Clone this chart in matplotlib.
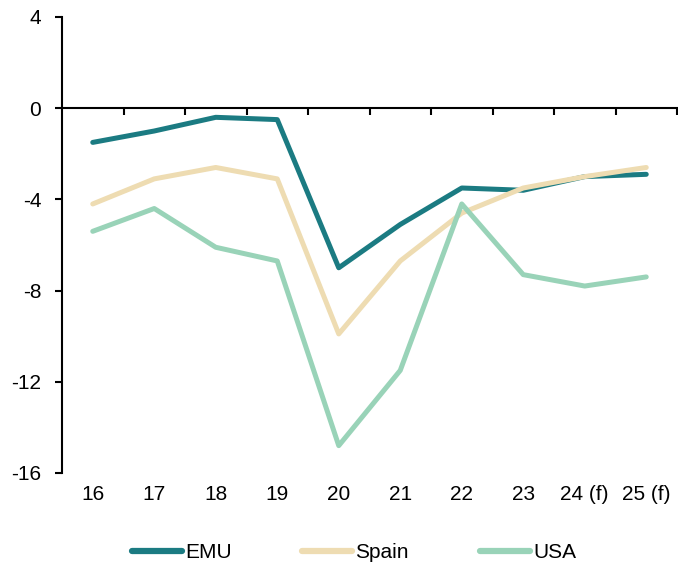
import matplotlib
matplotlib.use("Agg")
import matplotlib.pyplot as plt
import matplotlib.transforms as mtransforms
import numpy as np

plt.rcParams['font.family'] = ['Liberation Sans', 'DejaVu Sans']

years = ["16", "17", "18", "19", "20", "21", "22", "23", "24 (f)", "25 (f)"]
emu = [-1.5, -1.0, -0.4, -0.5, -7.0, -5.1, -3.5, -3.6, -3.0, -2.9]
spain = [-4.2, -3.1, -2.6, -3.1, -9.9, -6.7, -4.6, -3.5, -3.0, -2.6]
usa = [-5.4, -4.4, -6.1, -6.7, -14.8, -11.5, -4.2, -7.3, -7.8, -7.4]

series = [("EMU", emu, "#1B7B82"),
          ("Spain", spain, "#EEDCB2"),
          ("USA", usa, "#99D3B8")]

FS = 15

fig = plt.figure(figsize=(6.78, 5.68), dpi=100)
ax = fig.add_axes([62 / 678, 1 - 473 / 568, (677 - 62) / 678, (473 - 17) / 568])

x = np.arange(len(years))
for name, vals, col in series:
    ax.plot(x, vals, color=col, lw=3.6, label=name, solid_capstyle='round')

ax.set_xlim(-0.5, len(years) - 0.5)
ax.set_ylim(-16, 4)
ax.set_yticks([-16, -12, -8, -4, 0, 4])
ax.set_yticklabels(["-16", "-12", "-8", "-4", "0", "4"], fontsize=FS)

for s in ["top", "right"]:
    ax.spines[s].set_visible(False)
ax.spines["bottom"].set_position(("data", 0))
ax.spines["bottom"].set_linewidth(1.5)
ax.spines["left"].set_linewidth(1.5)

# tick marks between categories, labels drawn below the plot
ax.set_xticks(np.arange(0.5, len(years), 1))
ax.set_xticklabels([])
ax.tick_params(axis="x", direction="out", length=5, width=1.5)
ax.tick_params(axis="y", direction="out", length=5, width=1.5, pad=10)

trans = mtransforms.blended_transform_factory(ax.transData, ax.transAxes)
for i, lab in enumerate(years):
    ax.text(i, -0.047, lab, transform=trans, ha="center", va="center", fontsize=FS)

leg = fig.legend(loc="center", bbox_to_anchor=(0.522, 1 - 553 / 568), ncol=3,
                 frameon=False, fontsize=FS, handlelength=2.4,
                 handletextpad=0.15, columnspacing=3.4)
for line in leg.get_lines():
    line.set_linewidth(4.5)

fig.savefig("out.png", dpi=100)
